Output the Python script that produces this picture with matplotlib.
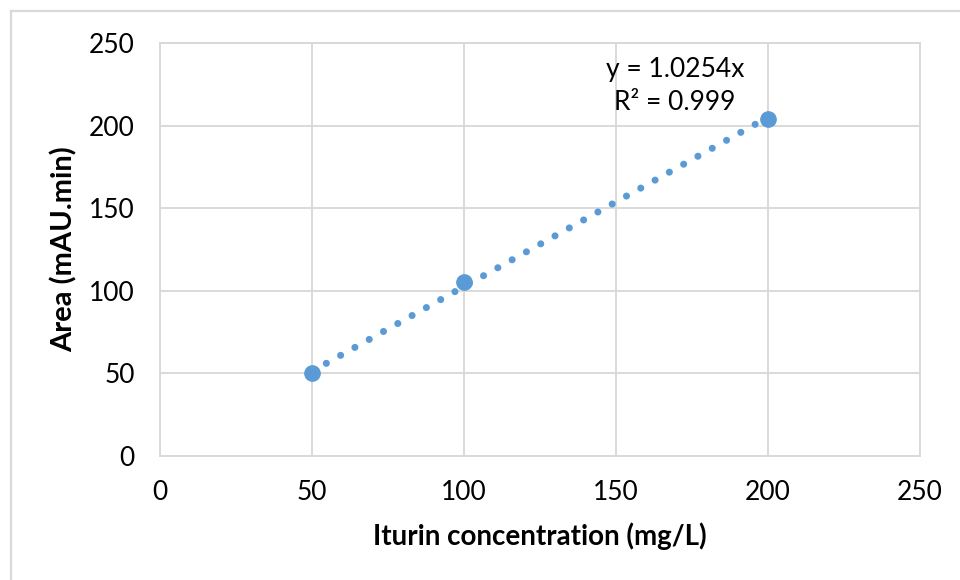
import matplotlib
matplotlib.use("Agg")
import matplotlib.pyplot as plt
import numpy as np
from matplotlib.lines import Line2D

plt.rcParams['font.family'] = ['Lato', 'DejaVu Sans']

# Data
concentration = [50, 100, 200]
area = [50.5, 105.3, 203.8]
slope = 1.0254
r2_text = "0.999"
x_ticks = [0, 50, 100, 150, 200, 250]
y_ticks = [0, 50, 100, 150, 200, 250]

blue = '#5b9bd5'
grid_c = '#d9d9d9'

fig = plt.figure(figsize=(9.6, 5.8), dpi=100)
ax = fig.add_axes([160/960, 1-456/580, (920-160)/960, (456-43)/580])

# trendline
tx = np.array([min(concentration), max(concentration)])
ax.plot(tx, slope*tx, color=blue, lw=5.1, linestyle=(0, (0.01, 2.3)),
        dash_capstyle='round', solid_capstyle='round', zorder=2)
ax.plot(concentration, area, 'o', color=blue, markersize=11, zorder=3)

ax.set_xlim(0, 250)
ax.set_ylim(0, 250)
ax.set_xticks(x_ticks)
ax.set_yticks(y_ticks)
ax.grid(True, color=grid_c, lw=1.4, zorder=0)
for s in ax.spines.values():
    s.set_color(grid_c)
    s.set_linewidth(1.4)
ax.tick_params(length=0, labelsize=19, pad=17, colors='black')
ax.tick_params(axis='y', pad=18)
ax.set_axisbelow(True)

ax.set_xlabel('Iturin concentration (mg/L)', fontsize=20, fontweight='bold', labelpad=13)
ax.set_ylabel('Area (mAU.min)', fontsize=21, fontweight='bold', labelpad=8)

fig.text(675/960, 1-70/580, 'y = 1.0254x', fontsize=19, ha='center', va='center')
fig.text(675/960, 1-103/580, 'R² = ' + r2_text, fontsize=19, ha='center', va='center')

# outer border (left & top visible)
fig.add_artist(Line2D([11/960, 11/960], [-0.1, 1-11/580], transform=fig.transFigure, color=grid_c, lw=1.6))
fig.add_artist(Line2D([11/960, 1.1], [1-11/580, 1-11/580], transform=fig.transFigure, color=grid_c, lw=1.6))

fig.savefig('out.png', dpi=100)
